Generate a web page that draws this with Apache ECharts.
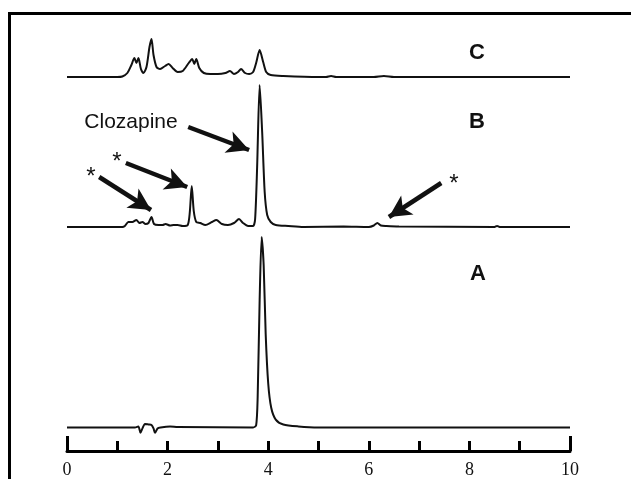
<!DOCTYPE html>
<html>
<head>
<meta charset="utf-8">
<script src="https://cdn.jsdelivr.net/npm/echarts@6/dist/echarts.min.js"></script>
<style>
  html, body { margin: 0; padding: 0; background: #fff; }
  #main { width: 631px; height: 479px; }
</style>
</head>
<body>
<div id="main"></div>
<script>
// retention time (min), signal height above each trace's baseline (arbitrary units)
var traceC = [
    [0, 0], [1.0, 0], [1.1, 0.5], [1.2, 4], [1.28, 12], [1.34, 19], [1.38, 14], [1.42, 19],
    [1.47, 8], [1.52, 4], [1.58, 10], [1.64, 30], [1.68, 38], [1.72, 22], [1.78, 10],
    [1.85, 8], [1.95, 11], [2.02, 13], [2.1, 9], [2.2, 5], [2.3, 6], [2.42, 14], [2.49, 18],
    [2.53, 13], [2.57, 18], [2.63, 9], [2.72, 4], [2.85, 3], [3.0, 3], [3.15, 4], [3.24, 6],
    [3.32, 3], [3.4, 5], [3.46, 8], [3.54, 4], [3.62, 3], [3.7, 5], [3.76, 14], [3.83, 27],
    [3.9, 15], [3.96, 5], [4.05, 2], [4.3, 1], [5.0, 0], [5.15, 0], [5.25, 1], [5.35, 0],
    [6.1, 0], [6.3, 1], [6.5, 0], [7.5, 0], [10, 0]
];
var traceB = [
    [0, 0], [1.1, 0], [1.15, 1], [1.22, 5], [1.3, 5], [1.38, 7], [1.44, 4], [1.5, 5],
    [1.56, 3], [1.62, 4], [1.68, 10], [1.73, 3], [1.82, 2], [1.9, 2], [1.96, 3], [2.05, 1.5],
    [2.12, 2], [2.2, 2], [2.3, 1], [2.4, 2], [2.44, 14], [2.48, 41], [2.52, 16], [2.57, 5],
    [2.65, 4], [2.75, 2], [2.88, 5], [2.97, 7], [3.08, 3], [3.2, 2], [3.32, 4], [3.42, 8],
    [3.5, 4], [3.6, 1], [3.7, 1], [3.74, 8], [3.78, 60], [3.83, 142], [3.88, 95], [3.93, 35],
    [3.98, 12], [4.05, 5], [4.15, 2], [4.4, 1], [4.7, 0], [5.5, 0.5], [6.0, 0], [6.1, 1.5],
    [6.17, 4], [6.24, 1.5], [6.35, 1], [6.6, 0.5], [8.5, 0], [8.55, 1], [8.6, 0], [10, 0]
];
var traceA = [
    [0, 0], [1.35, 0], [1.42, 1], [1.46, -5.5], [1.5, -1], [1.55, 3.5], [1.62, 3], [1.68, 2.5],
    [1.72, -1], [1.75, -5.5], [1.8, -1], [1.86, 0], [2.05, 1], [2.2, 0.5], [3.7, 0], [3.76, 2],
    [3.79, 30], [3.83, 130], [3.87, 194], [3.91, 165], [3.95, 95], [4.0, 45], [4.06, 20],
    [4.15, 8], [4.3, 3], [4.6, 1], [5, 0], [10, 0]
];
var traceNames = ['C', 'B', 'A'];
var tickLabels = ['0', '2', '4', '6', '8', '10'];

// annotation arrows on trace B: [from, to] in data units
var arrowsB = [
    [[2.41, 100], [3.62, 77]],   // Clozapine
    [[1.17, 64], [2.39, 40]],
    [[0.64, 50], [1.67, 17]],
    [[7.44, 44], [6.40, 10]]
];

var chart = echarts.init(document.getElementById('main'));

var hiddenX = function (i) {
    return { type: 'value', gridIndex: i, min: 0, max: 10, show: false };
};
var hiddenY = function (i, lo, hi) {
    return { type: 'value', gridIndex: i, min: lo, max: hi, show: false };
};
var trace = function (data, i, extra) {
    var s = {
        type: 'line',
        xAxisIndex: i,
        yAxisIndex: i,
        data: data,
        showSymbol: false,
        smooth: 0.25,
        clip: false,
        lineStyle: { color: '#111', width: 2 }
    };
    if (extra) s.markLine = extra;
    return s;
};
var label = function (text, x, y, font) {
    return {
        type: 'text', x: x, y: y, silent: true,
        style: { text: text, font: font, fill: '#111', align: 'center', verticalAlign: 'middle' }
    };
};

var option = {
    animation: false,
    backgroundColor: '#fff',
    grid: [
        { left: 67, width: 503, top: 27, height: 50 },
        { left: 67, width: 503, top: 77, height: 150 },
        { left: 67, width: 503, top: 231, height: 224 }
    ],
    xAxis: [
        hiddenX(0),
        hiddenX(1),
        {
            type: 'value', gridIndex: 2, min: 0, max: 10, interval: 1, position: 'bottom',
            axisLine: { onZero: false, lineStyle: { color: '#000', width: 3 } },
            axisTick: { inside: true, length: 10, lineStyle: { color: '#000', width: 3 } },
            splitLine: { show: false },
            axisLabel: {
                margin: 10,
                color: '#111',
                fontFamily: 'Liberation Serif',
                fontSize: 18,
                formatter: function (v) {
                    return v % 2 === 0 ? tickLabels[v / 2] : '';
                }
            }
        },
        {
            type: 'value', gridIndex: 2, min: 0, max: 10, interval: 10, position: 'bottom',
            axisLine: { show: false, onZero: false },
            axisTick: { inside: true, length: 15, lineStyle: { color: '#000', width: 3 } },
            axisLabel: { show: false },
            splitLine: { show: false }
        }
    ],
    yAxis: [hiddenY(0, 0, 50), hiddenY(1, 0, 150), hiddenY(2, -24, 200)],
    series: [
        trace(traceC, 0),
        trace(traceB, 1, {
            silent: true,
            symbol: ['none', 'arrow'],
            symbolSize: [17, 22],
            label: { show: false },
            lineStyle: { color: '#111', width: 4.5, type: 'solid' },
            data: arrowsB.map(function (a) {
                return [{ coord: a[0] }, { coord: a[1] }];
            })
        }),
        trace(traceA, 2)
    ],
    graphic: [
        {
            type: 'rect', silent: true,
            shape: { x: 9.5, y: 13.5, width: 640, height: 500 },
            style: { fill: 'none', stroke: '#000', lineWidth: 3 }
        },
        label(traceNames[0], 477, 53, 'bold 22px "Liberation Sans"'),
        label(traceNames[1], 477, 122, 'bold 22px "Liberation Sans"'),
        label(traceNames[2], 478, 274, 'bold 22px "Liberation Sans"'),
        label('Clozapine', 131, 122, '21px "Liberation Sans"'),
        label('*', 117, 162, '24px "Liberation Sans"'),
        label('*', 91, 177, '24px "Liberation Sans"'),
        label('*', 454, 184, '24px "Liberation Sans"')
    ]
};

chart.setOption(option);
</script>
</body>
</html>
